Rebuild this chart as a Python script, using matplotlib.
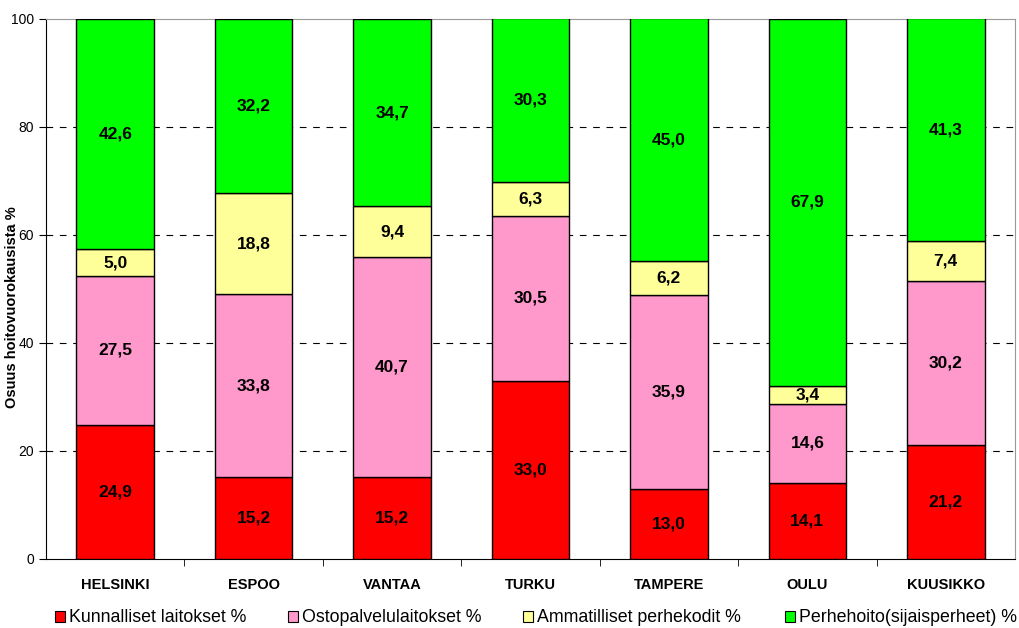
import numpy as np
import matplotlib.pyplot as plt
from matplotlib.patches import Patch

plt.rcParams['font.family'] = ['Liberation Sans', 'DejaVu Sans']

cities = ['HELSINKI', 'ESPOO', 'VANTAA', 'TURKU', 'TAMPERE', 'OULU', 'KUUSIKKO']
series_names = ['Kunnalliset laitokset %', 'Ostopalvelulaitokset %',
                'Ammatilliset perhekodit %', 'Perhehoito(sijaisperheet) %']
kunnalliset = [24.9, 15.2, 15.2, 33.0, 13.0, 14.1, 21.2]
ostopalvelu = [27.5, 33.8, 40.7, 30.5, 35.9, 14.6, 30.2]
ammatilliset = [5.0, 18.8, 9.4, 6.3, 6.2, 3.4, 7.4]
perhehoito = [42.6, 32.2, 34.7, 30.3, 45.0, 67.9, 41.3]
colors = ['#FF0000', '#FF99CC', '#FFFF99', '#00FF00']

W, H = 1020, 628
fig = plt.figure(figsize=(W / 100, H / 100), dpi=100)
ax = fig.add_axes([46 / W, 1 - 559 / H, 969 / W, 540 / H])

x = np.arange(len(cities))
bottom = np.zeros(len(cities))
for vals, col in zip([kunnalliset, ostopalvelu, ammatilliset, perhehoito], colors):
    vals = np.array(vals)
    ax.bar(x, vals, 0.56, bottom=bottom, color=col, edgecolor='black',
           linewidth=1.0, zorder=3)
    for xi, b, v in zip(x, bottom, vals):
        ax.text(xi, b + v / 2, f'{v:.1f}'.replace('.', ','), ha='center',
                va='center', fontsize=12.5, fontweight='bold', zorder=4)
    bottom += vals

ax.set_xlim(-0.5, len(cities) - 0.5)
ax.set_ylim(0, 100)
ax.set_yticks(range(0, 101, 20))
ax.tick_params(axis='y', labelsize=10, length=5, direction='out')
ax.set_xticks(x)
ax.set_xticklabels(cities, fontsize=10.5, fontweight='bold')
ax.tick_params(axis='x', length=0, pad=14)
ax.set_xticks(np.arange(len(cities) - 1) + 0.5, minor=True)
ax.tick_params(axis='x', which='minor', length=5, direction='out')

for v in range(20, 100, 20):
    ax.axhline(v, color='black', linestyle=(0, (6, 6)), linewidth=0.8, zorder=1)

for s in ['top', 'right']:
    ax.spines[s].set_color('#999999')
ax.spines['left'].set_color('black')
ax.spines['bottom'].set_color('black')

fig.text(12 / W, 1 - 307 / H, 'Osuus hoitovuorokausista %', rotation=90,
         ha='center', va='center', fontsize=10.5, fontweight='bold')

# legend entries placed one by one, like the original
legend_x = [55, 288, 523, 785]
for name, col, lx in zip(series_names, colors, legend_x):
    leg = fig.legend([Patch(facecolor=col, edgecolor='black', linewidth=0.8)], [name],
                     loc='center left', bbox_to_anchor=(lx / W, 1 - 618 / H),
                     frameon=False, fontsize=12.8, borderpad=0, borderaxespad=0,
                     handlelength=0.56, handleheight=0.56, handletextpad=0.2)

fig.savefig('out.png', dpi=100)
